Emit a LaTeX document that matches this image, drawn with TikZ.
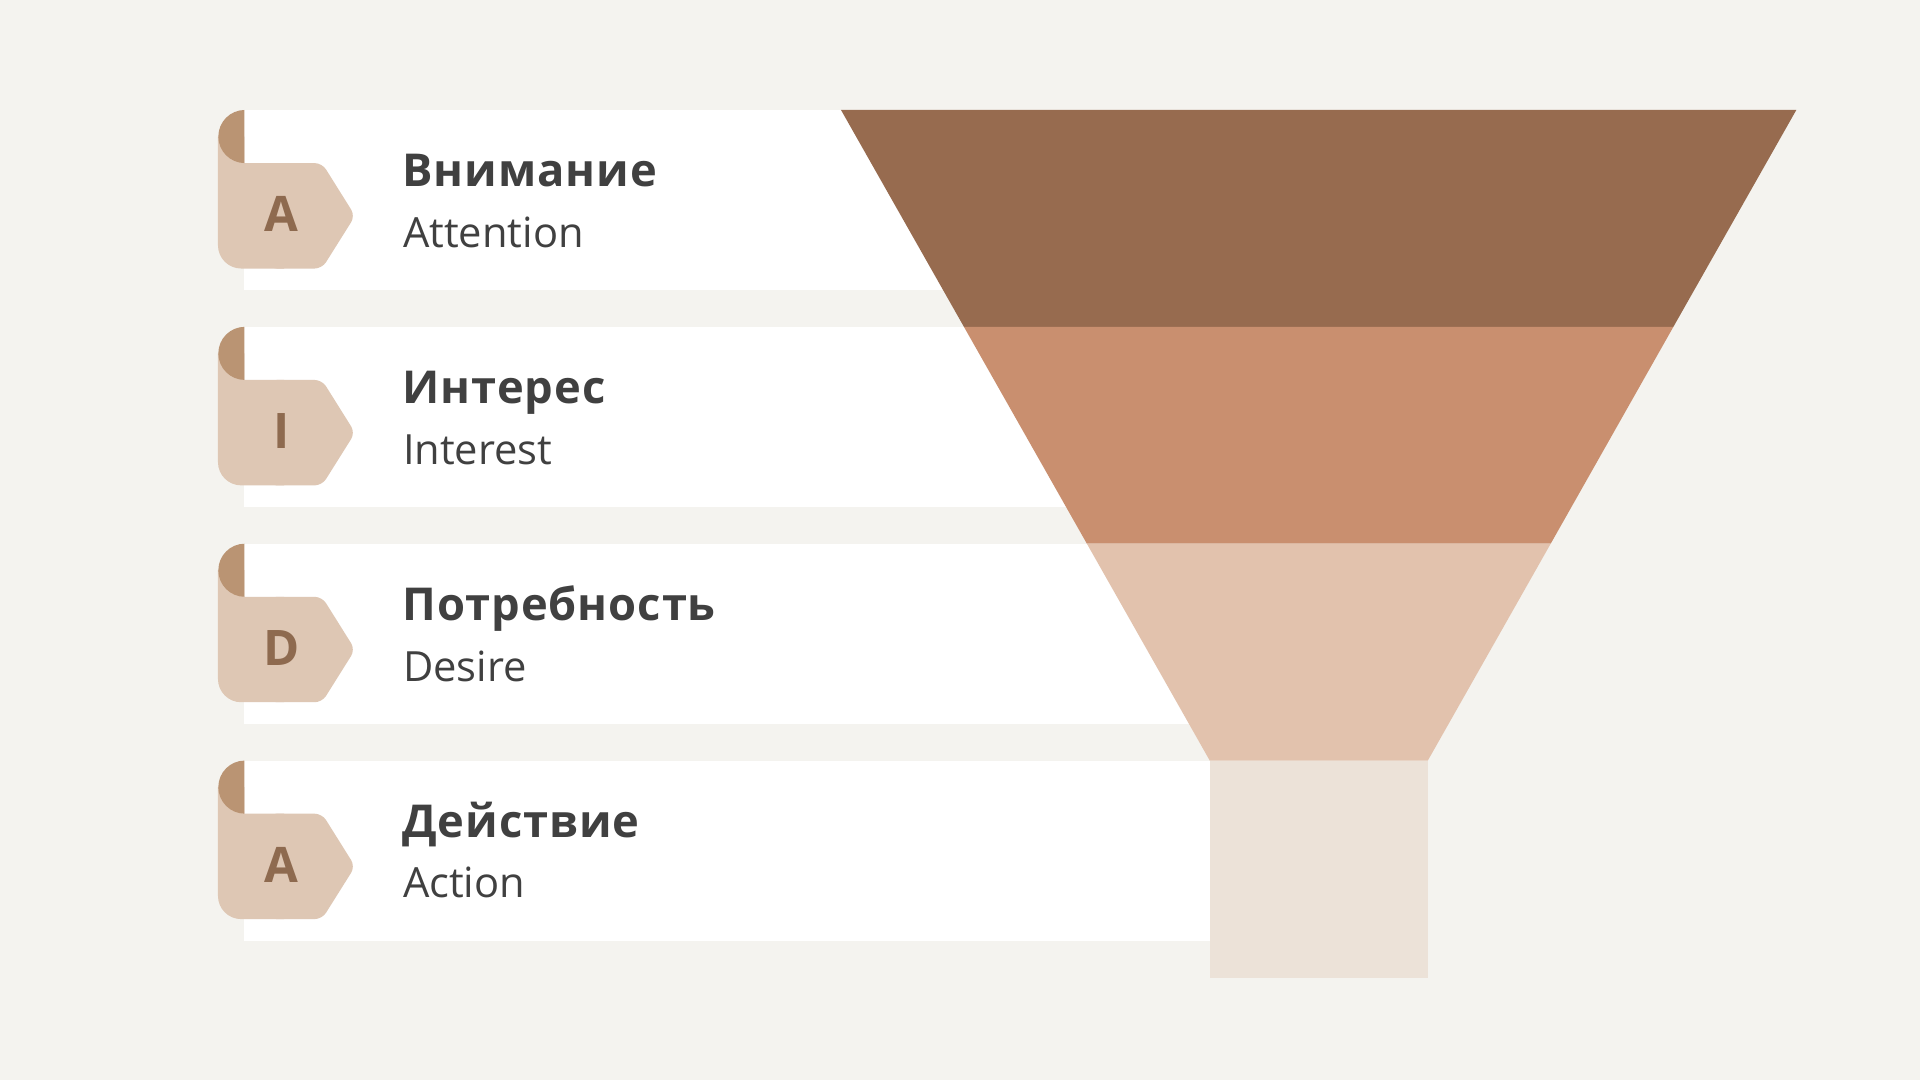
\documentclass[tikz,border=0pt]{standalone}
\usepackage{fontspec}
\setmainfont{Open Sans}
\newfontfamily\osb[LetterSpace=2]{Open Sans Bold}
\newfontfamily\osl{Open Sans Bold}
\definecolor{bgc}{HTML}{F4F3EF}
\definecolor{band1}{HTML}{976B4F}
\definecolor{band2}{HTML}{C98F6F}
\definecolor{band3}{HTML}{E2C2AD}
\definecolor{band4}{HTML}{ECE2D8}
\definecolor{tagc}{HTML}{DEC7B4}
\definecolor{curlc}{HTML}{BA9473}
\definecolor{letc}{HTML}{8E6A4F}
\definecolor{txtc}{HTML}{404040}
\tikzset{
  titletext/.style={anchor=base west, inner sep=0pt, text=txtc, font=\osb\fontsize{37}{40}\selectfont},
  subtext/.style={anchor=base west, inner sep=0pt, text=txtc, font=\fontsize{34}{38}\selectfont},
  tagletter/.style={anchor=base, inner sep=0pt, text=letc, font=\osl\fontsize{40}{44}\selectfont},
}
\begin{document}
\begin{tikzpicture}[x=1pt,y=-1pt]
\fill[bgc] (0,0) rectangle (1568,882);
\useasboundingbox (0,0) rectangle (1568,882);
% rows
\foreach \i/\L/\T/\S in {0/A/Внимание/Attention,1/I/Интерес/Interest,2/D/Потребность/Desire,3/A/Действие/Action}{
  \pgfmathsetmacro{\t}{89.8+177.1*\i}
  \fill[white] (199.5,\t) rectangle (1100,\t+147);
  % tag body
  \fill[tagc] (178,\t+21.7) -- (178,\t+110.5) .. controls (178,\t+121) and (186.5,\t+129.5) .. (197,\t+129.5) -- (232,\t+129.5) -- (232,\t+43.4) -- (199.5,\t+43.4) -- (199.5,\t+21.7) -- cycle;
  \fill[tagc,rounded corners=6pt] (220,\t+43.4) -- (263,\t+43.4) -- (290,\t+86.5) -- (263,\t+129.5) -- (220,\t+129.5) -- cycle;
  \begin{scope}
    \clip (170,\t-2) rectangle (199.5,\t+50);
    \fill[curlc] (200,\t+21.7) circle (21.7);
  \end{scope}
  \node[tagletter] (tag\i) at (229.6,\t+99.4) {\L};
  \node[titletext] (title\i) at (328.5,\t+62.6) {\T};
  \node[subtext] (sub\i) at (329,\t+112.2) {\S};
}
% funnel
\fill[band1] (686.8,89.8) -- (1467,89.8) -- (1366.6,266.9) -- (787.2,266.9) -- cycle;
\fill[band2] (787.2,266.9) -- (1366.6,266.9) -- (1266.4,444.0) -- (887.6,444.0) -- cycle;
\fill[band3] (887.6,444.0) -- (1266.4,444.0) -- (1166,621.2) -- (988,621.2) -- cycle;
\fill[band4] (988,621.2) rectangle (1166,798.4);
\end{tikzpicture}
\end{document}
